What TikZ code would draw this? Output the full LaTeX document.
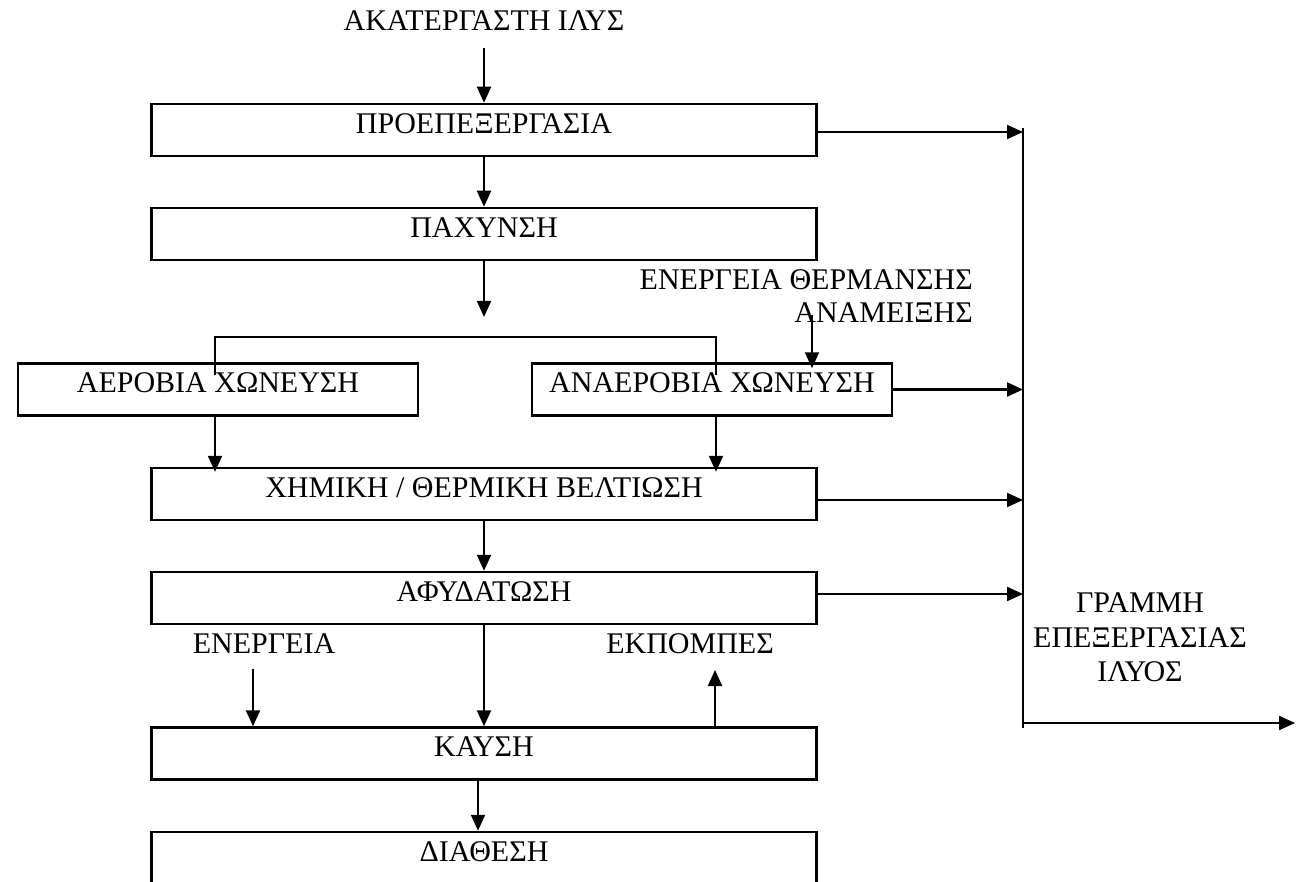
\documentclass[tikz,border=0pt]{standalone}
\usepackage{fontspec}
\setmainfont{Liberation Serif}
\usetikzlibrary{arrows.meta,calc}
\newcommand\fsbig{\fontsize{30}{35}\selectfont}
\tikzset{
  box/.style={draw, line width=2.5pt, minimum width=665pt, minimum height=52pt, inner sep=0pt, font=\fsbig, text height=19.9pt, text depth=13pt},
  lbl/.style={inner sep=0pt, font=\fsbig, text height=19.9pt, text depth=0pt},
  arr/.style={line width=2.2pt, -{Triangle[length=16pt,width=14pt]}},
  thinl/.style={line width=1.5pt},
}
\begin{document}
\begin{tikzpicture}[x=1pt,y=-1pt]
\useasboundingbox (0,0) rectangle (1297,882);
\clip (0,0) rectangle (1297,882);
% nodes
\node[lbl] (raw) at (484,21) {ΑΚΑΤΕΡΓΑΣΤΗ ΙΛΥΣ};
\node[box] (pre) at (484,130) {ΠΡΟΕΠΕΞΕΡΓΑΣΙΑ};
\node[box] (pax) at (484,234) {ΠΑΧΥΝΣΗ};
\node[box, minimum width=400pt] (aer) at (218,389.5) {ΑΕΡΟΒΙΑ ΧΩΝΕΥΣΗ};
\node[box, minimum width=360pt] (ana) at (712,389.5) {ΑΝΑΕΡΟΒΙΑ ΧΩΝΕΥΣΗ};
\node[box] (chem) at (484,494) {ΧΗΜΙΚΗ / ΘΕΡΜΙΚΗ ΒΕΛΤΙΩΣΗ};
\node[box] (afy) at (484,598) {ΑΦΥΔΑΤΩΣΗ};
\node[box] (kaf) at (484,753.5) {ΚΑΥΣΗ};
\node[box, minimum height=60pt, text depth=20pt] (dia) at (484,862) {ΔΙΑΘΕΣΗ};
\node[lbl, anchor=base east] (heat1) at (973,290) {ΕΝΕΡΓΕΙΑ ΘΕΡΜΑΝΣΗΣ};
\node[lbl, anchor=base east] (heat2) at (973,323) {ΑΝΑΜΕΙΞΗΣ};
\node[lbl] (energy) at (264,644) {ΕΝΕΡΓΕΙΑ};
\node[lbl] (emis) at (690,644) {ΕΚΠΟΜΠΕΣ};
\node[lbl] (line1) at (1140,603) {ΓΡΑΜΜΗ};
\node[lbl] (line2) at (1140,638) {ΕΠΕΞΕΡΓΑΣΙΑΣ};
\node[lbl] (line3) at (1140,672) {ΙΛΥΟΣ};
% coordinates
\coordinate (busTop) at (1023,128);
\coordinate (busBot) at (1023,728);
\coordinate (split) at (484,337);
\coordinate (paxOut) at (484,317);
\coordinate (heatIn) at (812,315);
\coordinate (enIn) at (253,669);
\coordinate (emOut) at (715,670);
\coordinate (outEnd) at (1295,723);
% connectors
\draw[arr] ([yshift=-17pt]raw.south) -- (pre.north);
\draw[arr] (pre.south) -- (pax.north);
\draw[arr] (pax.south) -- (paxOut);
\draw[thinl] ([xshift=-3pt,yshift=-13pt]aer.north) |- (split) -| ([xshift=4pt,yshift=-13pt]ana.north);
\draw[arr] (heatIn) -- ([yshift=-6pt]heatIn |- ana.north);
\draw[thinl] (busTop) -- (busBot);
\draw[arr] ([yshift=-2pt]pre.east) -- ([yshift=-2pt]pre.east -| busTop);
\draw[arr] (ana.east) -- (ana.east -| busTop);
\draw[arr] ([yshift=-6pt]chem.east) -- ([yshift=-6pt]chem.east -| busTop);
\draw[arr] ([yshift=4pt]afy.east) -- ([yshift=4pt]afy.east -| busTop);
\draw[arr] (busBot |- outEnd) -- (outEnd);
\draw[arr] ([xshift=-3pt]aer.south) -- ([xshift=-3pt,yshift=-5pt]aer.south |- chem.north);
\draw[arr] ([xshift=4pt]ana.south) -- ([xshift=4pt,yshift=-5pt]ana.south |- chem.north);
\draw[arr] (chem.south) -- (afy.north);
\draw[arr] (afy.south) -- (kaf.north);
\draw[arr] (enIn) -- (enIn |- kaf.north);
\draw[arr] (emOut |- kaf.north) -- (emOut);
\draw[arr] ([xshift=-6pt]kaf.south) -- ([xshift=-6pt]dia.north);
\end{tikzpicture}
\end{document}
